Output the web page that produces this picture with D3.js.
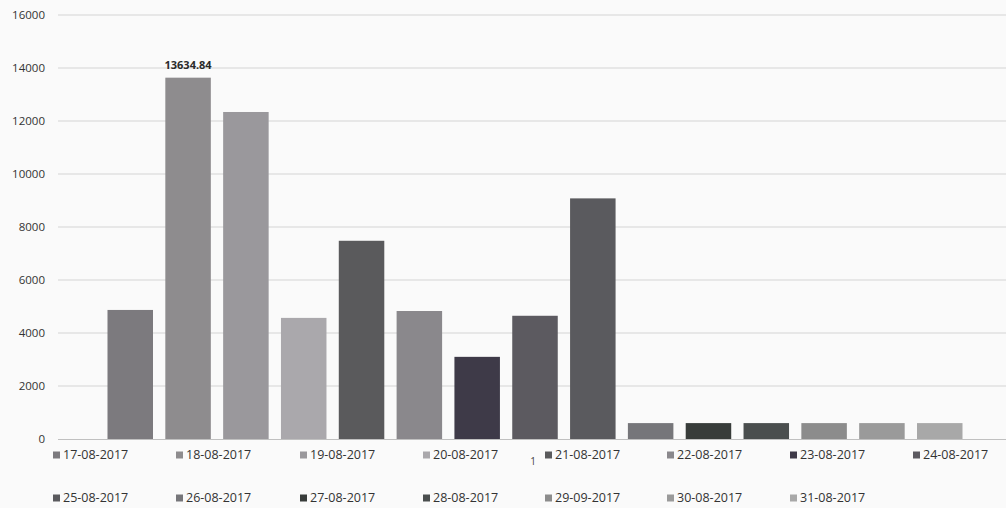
<!DOCTYPE html>
<html>
<head>
<meta charset="utf-8">
<script src="https://cdn.jsdelivr.net/npm/d3@7"></script>
<style>
  html, body { margin: 0; padding: 0; background: #fafafa; }
  svg { display: block; }
</style>
</head>
<body>
<svg id="chart" width="1006" height="508"></svg>
<script>
// ---- data ----
const categories = ["1"];
const seriesNames = ["17-08-2017","18-08-2017","19-08-2017","20-08-2017","21-08-2017",
  "22-08-2017","23-08-2017","24-08-2017","25-08-2017","26-08-2017","27-08-2017",
  "28-08-2017","29-09-2017","30-08-2017","31-08-2017"];
const seriesValues = [4870, 13634.84, 12340, 4570, 7480, 4830, 3100, 4650, 9080,
  600, 600, 600, 600, 600, 600];
const seriesColors = ["#7c7a7e","#8e8c8e","#9a989c","#aaa8ac","#5a5a5c",
  "#8a888c","#3e3a48","#5c5a60","#5a5a5e","#76767a","#383c3a","#4a4e4e",
  "#8c8c8c","#9a9a9a","#a8a8a8"];
const yTicks = [0, 2000, 4000, 6000, 8000, 10000, 12000, 14000, 16000];
const labelledSeries = ["18-08-2017"];

// ---- layout ----
const svg = d3.select("#chart");
const plotLeft = 58, plotRight = 1012, plotTop = 15, plotBottom = 439;

const y = d3.scaleLinear().domain([0, 16000]).range([plotBottom, plotTop]);
const x0 = d3.scaleBand().domain(categories).range([plotLeft, plotRight])
  .paddingInner(0.1).paddingOuter(0.0521);
const x1 = d3.scaleBand().domain(seriesNames).range([0, x0.bandwidth()])
  .paddingInner(0.213).paddingOuter(0);
const color = d3.scaleOrdinal().domain(seriesNames).range(seriesColors);

// gridlines
svg.append("g").selectAll("line").data(yTicks.filter(d => d > 0)).join("line")
  .attr("x1", plotLeft).attr("x2", 1006)
  .attr("y1", d => y(d)).attr("y2", d => y(d))
  .attr("stroke", "#d4d4d4").attr("stroke-width", 1);

// y axis
const yAxis = d3.axisLeft(y).tickValues(yTicks).tickSize(0).tickPadding(13)
  .tickFormat(d3.format("d"));
const gy = svg.append("g").attr("transform", `translate(${plotLeft},0)`).call(yAxis);
gy.select(".domain").remove();
gy.selectAll("text").attr("fill", "#333").style("font-family", "'Open Sans', sans-serif")
  .style("font-size", "11.5px");

// bars
const rows = categories.map(c => ({ cat: c, vals: seriesNames.map((s, i) => ({ s, v: seriesValues[i] })) }));
const groups = svg.append("g").selectAll("g").data(rows).join("g")
  .attr("transform", d => `translate(${x0(d.cat)},0)`);
groups.selectAll("rect").data(d => d.vals).join("rect")
  .attr("x", d => x1(d.s)).attr("width", x1.bandwidth())
  .attr("y", d => y(d.v)).attr("height", d => y(0) - y(d.v))
  .attr("fill", d => color(d.s));
groups.selectAll("text.dl").data(d => d.vals.filter(v => labelledSeries.includes(v.s))).join("text")
  .attr("class", "dl")
  .attr("x", d => x1(d.s) + x1.bandwidth() / 2)
  .attr("y", d => y(d.v) - 9)
  .attr("text-anchor", "middle")
  .attr("fill", "#2a2a2a").style("font-family", "'Open Sans', sans-serif")
  .style("font-size", "11px").style("font-weight", "bold")
  .text(d => d.v.toFixed(2));

// x axis (baseline + category label)
const xAxis = d3.axisBottom(x0).tickSize(0).tickPadding(19);
const gx = svg.append("g").attr("transform", `translate(0,${plotBottom})`).call(xAxis);
gx.select(".domain").attr("stroke", "#c0c0c0").attr("d", `M${plotLeft},0.5H1006`);
gx.selectAll("text").attr("fill", "#444").style("font-family", "'Open Sans', sans-serif")
  .style("font-size", "10px").attr("dx", "-2");

// legend
const legendX = [53, 176, 300, 423, 545, 667, 790, 913];
const legendY = [455, 498];
const legend = svg.append("g").selectAll("g").data(seriesNames).join("g")
  .attr("transform", (d, i) => `translate(${legendX[i % 8]},${legendY[Math.floor(i / 8)]})`);
legend.append("rect").attr("x", 0).attr("y", -3.5).attr("width", 7).attr("height", 7)
  .attr("fill", d => color(d));
legend.append("text").attr("x", 10).attr("y", 0).attr("dy", "0.35em")
  .attr("fill", "#333").style("font-family", "'Open Sans', sans-serif")
  .style("font-size", "12.5px").text(d => d);
</script>
</body>
</html>
